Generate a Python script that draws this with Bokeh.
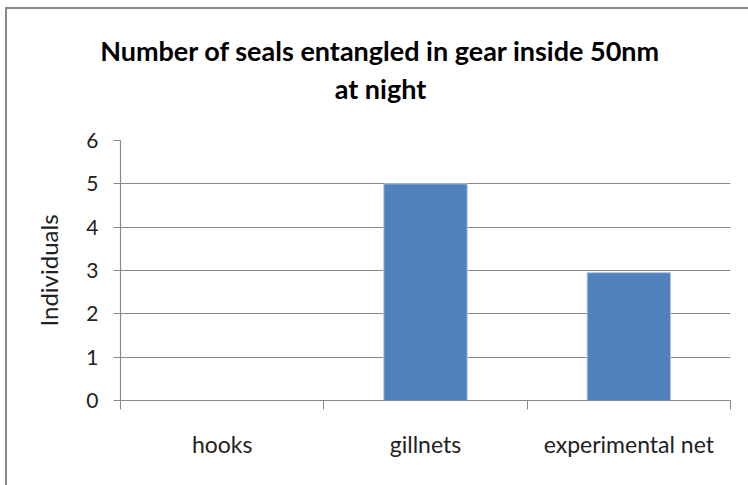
from bokeh.plotting import figure
from bokeh.models import Range1d, FixedTicker, Label
from bokeh.embed import file_html
from bokeh.resources import INLINE

# Data
categories = ["hooks", "gillnets", "experimental net"]
individuals = [0, 5, 2.95]
y_ticks = [0, 1, 2, 3, 4, 5, 6]
title_lines = ["Number of seals entangled in gear inside 50nm", "at night"]
y_label = "Individuals"

W, H = 748, 485
LEFT, RIGHT, TOP, BOTTOM = 120, 18, 140, 85
FRAME_W = W - LEFT - RIGHT
FRAME_H = H - TOP - BOTTOM
FONT = "Lato"
GRID = "#898989"
TEXT = "#222222"

n = len(categories)
centers = [i + 0.5 for i in range(n)]

p = figure(width=W, height=H, output_backend="svg", toolbar_location=None,
           x_range=Range1d(0, n), y_range=Range1d(0, 6),
           min_border_left=LEFT, min_border_right=RIGHT,
           min_border_top=TOP, min_border_bottom=BOTTOM)
p.outline_line_color = None
p.background_fill_color = "white"
# transparent canvas border so the host's frame line shows through
p.border_fill_alpha = 0
p.styles = {
    "background-color": "white",
    "box-shadow": "inset 5px 7px 0 0 white, inset 7px 9px 0 0 #8a8a8a",
}

# horizontal gridlines only
p.xgrid.grid_line_color = None
p.ygrid.ticker = FixedTicker(ticks=y_ticks)
p.ygrid.grid_line_color = GRID
p.ygrid.grid_line_width = 1.2

p.vbar(x=centers, top=individuals, width=0.41, bottom=0,
       fill_color="#4F81BD", line_color="#b3c8e3", line_width=1)

# x axis: labels at category centres, tick marks between categories
xa = p.xaxis[0]
xa.ticker = FixedTicker(ticks=centers, minor_ticks=list(range(n + 1)))
xa.major_label_overrides = {c: lab for c, lab in zip(centers, categories)}
xa.major_tick_out = 0
xa.major_tick_in = 0
xa.minor_tick_out = 9
xa.minor_tick_in = 0
xa.minor_tick_line_color = GRID
xa.axis_line_color = GRID
xa.axis_line_width = 1.2
xa.major_label_standoff = 20
xa.major_label_text_font = FONT
xa.major_label_text_font_size = "23px"
xa.major_label_text_color = TEXT

ya = p.yaxis[0]
ya.ticker = FixedTicker(ticks=y_ticks)
ya.major_tick_out = 7
ya.major_tick_in = 0
ya.minor_tick_out = 0
ya.minor_tick_in = 0
ya.major_tick_line_color = GRID
ya.axis_line_color = GRID
ya.axis_line_width = 1.2
ya.major_label_standoff = 15
ya.major_label_text_font = FONT
ya.major_label_text_font_size = "21px"
ya.major_label_text_color = TEXT
ya.axis_label = y_label
ya.axis_label_text_font = FONT
ya.axis_label_text_font_size = "24px"
ya.axis_label_text_font_style = "normal"
ya.axis_label_text_color = TEXT
ya.axis_label_standoff = 20


def px_x(px):
    return (px - LEFT) / FRAME_W * n


def px_y(py):
    return (H - BOTTOM - py) / FRAME_H * 6


# two-line chart title, placed in the top panel so it is not clipped
for text, py in zip(title_lines, [50, 88]):
    p.add_layout(Label(x=px_x(380), y=px_y(py), text=text,
                       text_align="center", text_baseline="middle",
                       text_font=FONT, text_font_style="bold",
                       text_font_size="27px", text_color="#000000"), "above")

open("out.html", "w").write(file_html(p, INLINE))
